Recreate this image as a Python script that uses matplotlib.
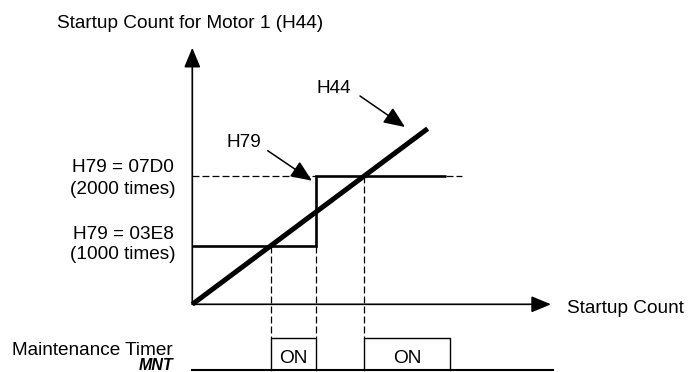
import matplotlib
matplotlib.use("Agg")
import matplotlib.pyplot as plt

plt.rcParams['font.family'] = ['Liberation Sans', 'DejaVu Sans']
plt.rcParams['lines.scale_dashes'] = False

# Startup counts; H44 follows the startup count one-to-one
count_origin = 160
h44_end = 2680
h79_levels = [1000, 2000]          # H79 settings (shown in hex)
h79_change_at = 1480               # startup count at which H79 is rewritten
h79_end = 2880
h79_dash_end = 3050
x_axis_end = 4000
y_axis_end = 3840
on_periods = [(1000, 1480), (2000, 2920)]   # maintenance timer MNT ON
timer_end = 4020

# ---- layout (pixels) ----
W, H = 688, 372
ORIGIN_PX = (192.3, 304.3)
KX, KY = 0.0934, 0.0697            # pixels per count along x / y

fig = plt.figure(figsize=(W / 100, H / 100), dpi=100)
ax = fig.add_axes([0, 0, 1, 1])
ax.axis('off')
ax.set_xlim(count_origin - ORIGIN_PX[0] / KX, count_origin + (W - ORIGIN_PX[0]) / KX)
ax.set_ylim(count_origin - (H - ORIGIN_PX[1]) / KY, count_origin + ORIGIN_PX[1] / KY)


def row(py):
    """Data y for a pixel row."""
    return count_origin - (py - ORIGIN_PX[1]) / KY


def P(px, py):
    """Axes-fraction position for a pixel location."""
    return (px / W, 1 - py / H)


timer_top = row(337.7)
timer_base = row(370.3)

FS = 13.7
DASH = (5, 2.2)

# axes with arrow heads
axis_arrow = dict(arrowstyle='-|>,head_length=12,head_width=5', mutation_scale=1,
                  lw=1.2, color='black', shrinkA=0, shrinkB=0)
ax.annotate('', xy=(count_origin, y_axis_end), xytext=(count_origin, count_origin),
            arrowprops=axis_arrow)
ax.annotate('', xy=(x_axis_end, count_origin), xytext=(count_origin, count_origin),
            arrowprops=axis_arrow)

# H79 setting: step from the first level to the second
ax.plot([count_origin, h79_change_at, h79_change_at, h79_end],
        [h79_levels[0], h79_levels[0], h79_levels[1], h79_levels[1]],
        color='black', lw=1.9, solid_joinstyle='miter', solid_capstyle='butt')
ax.plot([count_origin, h79_change_at], [h79_levels[1]] * 2,
        color='black', lw=0.9, dashes=DASH)
ax.plot([h79_end, h79_dash_end], [h79_levels[1]] * 2,
        color='black', lw=0.9, dashes=DASH)

# H44 startup count
ax.plot([count_origin, h44_end], [count_origin, h44_end],
        color='black', lw=3.6, solid_capstyle='butt')

# dashed drop lines to the timer row
ax.plot([on_periods[0][0]] * 2, [h79_levels[0], timer_top], color='black', lw=0.9, dashes=DASH)
ax.plot([on_periods[0][1]] * 2, [h79_levels[0], timer_top], color='black', lw=0.9, dashes=DASH)
ax.plot([on_periods[1][0]] * 2, [h79_levels[1], timer_top], color='black', lw=0.9, dashes=DASH)

# maintenance timer output
for a, b in on_periods:
    ax.plot([a, a, b, b], [timer_base, timer_top, timer_top, timer_base],
            color='black', lw=1.0, solid_joinstyle='miter')
    ax.text((a + b) / 2, row(362.7), 'ON', ha='center', va='baseline', fontsize=FS)
ax.plot([count_origin, timer_end], [timer_base] * 2, color='black', lw=1.5)


# labels
def label(px, py, s, ha='left', **kw):
    kw.setdefault('fontsize', FS)
    ax.text(*P(px, py), s, transform=ax.transAxes, ha=ha, va='baseline', **kw)


label(57, 28.5, 'Startup Count for Motor 1 (H44)')
label(174, 172, f'H79 = {h79_levels[1]:04X}', ha='right')
label(175, 194, f'({h79_levels[1]} times)', ha='right')
label(174, 238.7, f'H79 = {h79_levels[0]:04X}', ha='right')
label(175, 259, f'({h79_levels[0]} times)', ha='right')
label(173, 355.3, 'Maintenance Timer', ha='right')
label(173.3, 369.5, 'MNT', ha='right', fontsize=11.5, weight='bold', style='italic')
label(566.7, 312.7, 'Startup Count')
label(227, 146.7, 'H79')
label(316.7, 93, 'H44')

# pointer arrows
pointer = dict(arrowstyle='-|>,head_length=13,head_width=5.5', mutation_scale=1,
               lw=1.1, color='black', shrinkA=0, shrinkB=0)
ax.annotate('', xy=P(312, 180.7), xytext=P(267.7, 150.7),
            xycoords='axes fraction', textcoords='axes fraction', arrowprops=pointer)
ax.annotate('', xy=P(405, 127), xytext=P(360, 96),
            xycoords='axes fraction', textcoords='axes fraction', arrowprops=pointer)

fig.savefig('out.png', dpi=100)
